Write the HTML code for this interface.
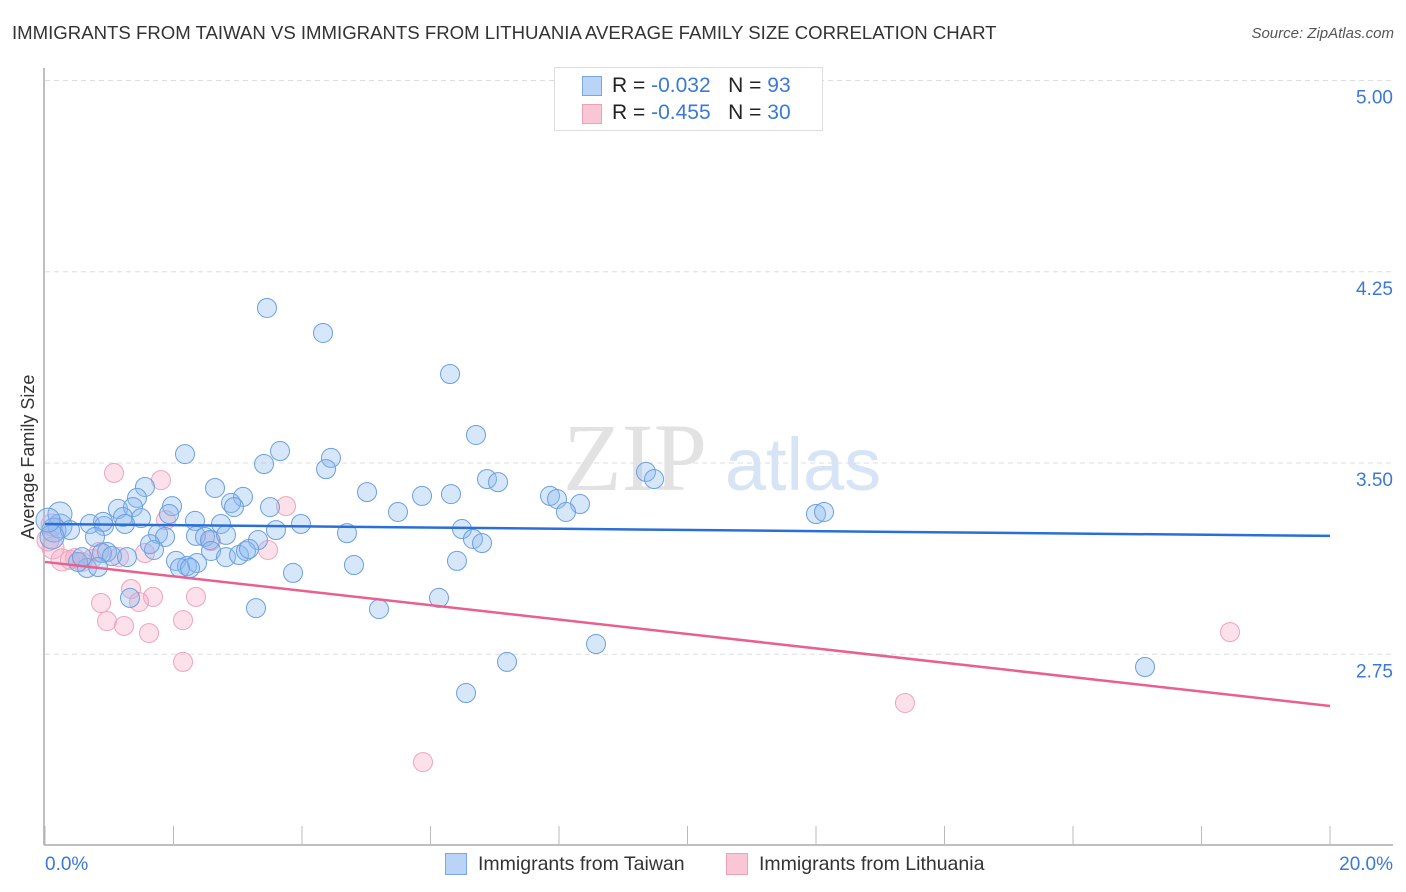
<!DOCTYPE html>
<html><head><meta charset="utf-8">
<style>
body{margin:0;background:#fff;font-family:"Liberation Sans",sans-serif;}
#wrap{position:relative;width:1406px;height:892px;overflow:hidden;}
.t{position:absolute;white-space:nowrap;}
</style></head>
<body>
<div id="wrap">
<div class="t" style="left:12px;top:22px;font-size:18.6px;color:#333;">IMMIGRANTS FROM TAIWAN VS IMMIGRANTS FROM LITHUANIA AVERAGE FAMILY SIZE CORRELATION CHART</div>
<div class="t" style="right:12px;top:25px;font-size:15px;color:#555;font-style:italic;">Source: ZipAtlas.com</div>
<svg id="svg" width="1406" height="892" style="position:absolute;left:0;top:0"></svg>
</div>
<script>
const xTicks=[0,2,4,6,8,10,12,14,16,18,20];
const yTicks=[2.75,3.50,4.25,5.00];
const yTickLabels=["2.75","3.50","4.25","5.00"];
const xTickLabels=["0.0%","20.0%"];
const taiwanX=[3.455,4.327,6.304,6.708,2.179,3.658,3.409,4.451,4.374,6.879,7.051,9.354,9.479,1.556,2.646,3.082,5.012,5.868,6.319,7.860,7.969,8.327,8.109,5.494,12.000,12.125,1.432,1.136,1.370,1.977,1.930,2.895,2.942,3.502,1.214,1.494,1.245,0.700,0.918,0.233,0.233,0.140,0.389,0.903,3.984,3.595,2.739,2.335,2.350,4.700,6.490,1.759,1.868,1.696,1.634,0.778,2.490,2.568,2.817,3.315,6.661,6.802,0.965,0.887,1.043,1.276,2.039,2.210,2.366,2.584,2.817,3.019,3.128,3.175,6.412,4.809,2.101,2.257,0.654,0.825,3.860,1.323,3.284,5.198,6.132,8.576,7.191,6.553,17.121,0.109,0.047,0.514,0.576];
const taiwanY=[4.108,4.010,3.849,3.610,3.535,3.547,3.496,3.520,3.476,3.437,3.425,3.465,3.437,3.406,3.402,3.367,3.386,3.371,3.378,3.371,3.359,3.339,3.308,3.308,3.300,3.308,3.363,3.320,3.327,3.331,3.300,3.343,3.327,3.327,3.288,3.284,3.261,3.261,3.253,3.253,3.300,3.237,3.237,3.269,3.261,3.237,3.261,3.273,3.214,3.225,3.241,3.222,3.210,3.159,3.182,3.210,3.210,3.198,3.218,3.198,3.202,3.186,3.151,3.147,3.135,3.131,3.116,3.096,3.108,3.155,3.131,3.139,3.155,3.163,3.116,3.100,3.088,3.088,3.088,3.092,3.069,2.971,2.931,2.927,2.971,2.790,2.720,2.598,2.700,3.210,3.276,3.112,3.131];
const lithX=[1.074,1.805,3.751,1.883,2.584,1.556,3.471,0.125,0.265,0.389,0.576,0.732,1.152,0.840,1.339,1.681,2.350,0.872,1.463,0.965,1.230,2.148,1.619,2.148,5.883,13.385,18.444,0.047,0.467,0.109];
const lithY=[3.461,3.433,3.331,3.276,3.194,3.147,3.159,3.167,3.120,3.120,3.112,3.124,3.131,3.151,3.006,2.975,2.975,2.951,2.955,2.880,2.861,2.884,2.833,2.720,2.327,2.559,2.837,3.198,3.127,3.257];
const taiwanTrend=[3.261,3.214];
const lithTrend=[3.112,2.547];

const X=v=>45+v*64.25;
const Y=v=>463-(v-3.5)*255;
const svg=document.getElementById('svg');
const NS='http://www.w3.org/2000/svg';
function mk(tag,attrs){const e=document.createElementNS(NS,tag);for(const k in attrs)e.setAttribute(k,attrs[k]);svg.appendChild(e);return e;}

yTicks.forEach((v,i)=>{
 const g=mk('line',{x1:45,x2:1393,y1:Y(v),y2:Y(v),stroke:'#ddd','stroke-dasharray':'5,4'});
 
 
 const t=mk('text',{x:1393,y:Y(v)+23,'text-anchor':'end','font-size':19,fill:'#3b78d8','font-family':'Liberation Sans'});
 t.textContent=yTickLabels[i];
 
 
});
const ax=mk('line',{x1:44,x2:44,y1:68,y2:845,stroke:'#aaa','stroke-width':1.5});


const bx=mk('line',{x1:44,x2:1393,y1:845,y2:845,stroke:'#aaa','stroke-width':1.5});


xTicks.forEach(v=>{
 const l=mk('line',{x1:X(v),x2:X(v),y1:826,y2:845,stroke:'#bbb'});
 
 
});
[[0,'start',xTickLabels[0]],[20,'end',xTickLabels[1]]].forEach(a=>{
 const t=mk('text',{x:a[0]==0?X(0):1393,y:870,'text-anchor':a[1],'font-size':19,fill:'#3b78d8','font-family':'Liberation Sans'});
 t.textContent=a[2];
 
 
});
const yt=mk('text',{x:34,y:457,'text-anchor':'middle','font-size':18,fill:'#333','font-family':'Liberation Sans',transform:'rotate(-90 34 457)'});
yt.textContent='Average Family Size';


const w1=mk('text',{x:635,y:490,'text-anchor':'middle','font-size':96,fill:'#e2e2e2','font-family':'Liberation Serif'});
w1.textContent='ZIP';


const w2=mk('text',{x:803,y:490,'text-anchor':'middle','font-size':74,fill:'#d6e4f5','font-family':'Liberation Sans'});
w2.textContent='atlas';



lithX.forEach((v,i)=>{
 const c=mk('circle',{cx:X(v),cy:Y(lithY[i]),r:(v<0.3?11:9.5),fill:'rgba(247,168,194,0.35)',stroke:'#f0a3bc','stroke-width':1});
 
 
});
taiwanX.forEach((v,i)=>{
 const c=mk('circle',{cx:X(v),cy:Y(taiwanY[i]),r:(v<0.3?12:9.5),fill:'rgba(140,185,240,0.35)',stroke:'#6b9fe0','stroke-width':1});
 
 
});
const tl=mk('line',{x1:X(0),x2:X(20),y1:Y(taiwanTrend[0]),y2:Y(taiwanTrend[1]),stroke:'#2a6fd6','stroke-width':2.5});


const ll=mk('line',{x1:X(0),x2:X(20),y1:Y(lithTrend[0]),y2:Y(lithTrend[1]),stroke:'#e8608e','stroke-width':2.5});


</script>
<div class="t" style="left:554px;top:67px;width:267px;height:62px;border:1px solid #ddd;background:#fff;font-size:21px;">
 <div style="position:absolute;left:27px;top:8px;width:18px;height:18px;background:#b9d4f6;border:1px solid #7aa7e3;"></div>
 <div class="t" style="left:57px;top:6px;color:#222;">R = <span style="color:#3b78d8">-0.032</span>&nbsp;&nbsp;&nbsp;N = <span style="color:#3b78d8">93</span></div>
 <div style="position:absolute;left:27px;top:36px;width:18px;height:18px;background:#f9c6d6;border:1px solid #eea0b8;"></div>
 <div class="t" style="left:57px;top:33px;color:#222;">R = <span style="color:#3b78d8">-0.455</span>&nbsp;&nbsp;&nbsp;N = <span style="color:#3b78d8">30</span></div>
</div>
<div style="position:absolute;left:445px;top:853px;width:20px;height:20px;background:#b9d4f6;border:1px solid #7aa7e3;"></div>
<div class="t" style="left:478px;top:853px;font-size:19.5px;color:#333;">Immigrants from Taiwan</div>
<div style="position:absolute;left:726px;top:853px;width:20px;height:20px;background:#f9c6d6;border:1px solid #eea0b8;"></div>
<div class="t" style="left:759px;top:853px;font-size:19.5px;color:#333;">Immigrants from Lithuania</div>
</body></html>
